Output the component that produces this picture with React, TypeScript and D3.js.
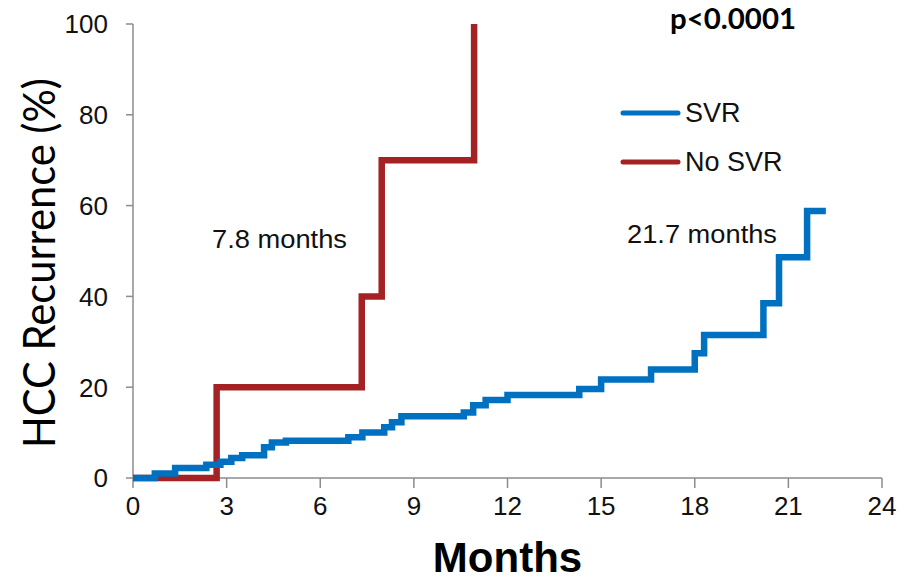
import React from "react";
import * as d3 from "d3";

// Kaplan-Meier style step data (months, % recurrence)
const svrMonths = [0, 0.7, 1.35, 2.35, 2.8, 3.15, 3.5, 4.2, 4.45, 4.9, 6.9, 7.35, 8.05, 8.3, 8.6, 10.6, 10.9, 11.3, 12.0, 14.3, 15.0, 16.6, 18.0, 18.3, 20.2, 20.7, 21.6, 22.2];
const svrPct = [0, 1.0, 2.2, 2.9, 3.6, 4.4, 5.0, 6.8, 7.8, 8.2, 9.0, 10.0, 11.2, 12.3, 13.6, 14.4, 16.0, 17.2, 18.3, 19.6, 21.7, 23.9, 27.5, 31.5, 38.5, 48.6, 58.8, 58.8];
const noSvrMonths = [0, 2.68, 7.33, 7.97, 10.93];
const noSvrPct = [0, 20, 40, 70, 100];

const xTicks = [0, 3, 6, 9, 12, 15, 18, 21, 24];
const yTicks = [0, 20, 40, 60, 80, 100];

const seriesNames = ["SVR", "No SVR"];
const colors = ["#0070C0", "#A52224"];

const W = 914;
const H = 582;
const margin = { left: 133, right: 32, top: 24, bottom: 104 };

export default function App() {
  const x = d3.scaleLinear().domain([0, 24]).range([margin.left, W - margin.right]);
  const y = d3.scaleLinear().domain([0, 100]).range([H - margin.bottom, margin.top]);

  const line = d3
    .line<[number, number]>()
    .x(d => x(d[0]))
    .y(d => y(d[1]))
    .curve(d3.curveStepAfter);

  const svr = svrMonths.map((m, i) => [m, svrPct[i]] as [number, number]);
  const noSvr = noSvrMonths.map((m, i) => [m, noSvrPct[i]] as [number, number]);

  const axisColor = "#8c8c8c";
  const x0 = x(0);
  const y0 = y(0);

  return (
    <svg width={W} height={H} style={{ position: "absolute", left: 0, top: 0, background: "#fff" }}>
      {/* axes */}
      <line x1={x0} x2={x0} y1={y(100)} y2={y0} stroke={axisColor} strokeWidth={1.5} />
      <line x1={x0} x2={x(24)} y1={y0} y2={y0} stroke={axisColor} strokeWidth={1.5} />
      {yTicks.map(t => (
        <g key={"y" + t}>
          <line x1={x0 - 7} x2={x0} y1={y(t)} y2={y(t)} stroke={axisColor} strokeWidth={1.5} />
          <text x={108} y={y(t)} dy="0.36em" textAnchor="end" fontFamily="Liberation Sans, Arial" fontSize={26} fill="#111">
            {t}
          </text>
        </g>
      ))}
      {xTicks.map(t => (
        <g key={"x" + t}>
          <line x1={x(t)} x2={x(t)} y1={y0} y2={y0 + 10} stroke={axisColor} strokeWidth={1.5} />
          <text x={x(t)} y={515} textAnchor="middle" fontFamily="Liberation Sans, Arial" fontSize={26} fill="#111">
            {t}
          </text>
        </g>
      ))}

      {/* curves */}
      <path d={line(noSvr) || ""} fill="none" stroke={colors[1]} strokeWidth={6.5} strokeLinejoin="miter" />
      <path d={line(svr) || ""} fill="none" stroke={colors[0]} strokeWidth={6.5} strokeLinejoin="miter" />

      {/* axis titles */}
      <text x={(x(0) + x(24)) / 2} y={572} textAnchor="middle" fontFamily="Liberation Sans, Arial" fontWeight="bold" fontSize={42} fill="#000">
        Months
      </text>
      <text
        transform={`translate(55, ${(78 + 448) / 2}) rotate(-90)`}
        textAnchor="middle"
        fontFamily="Lato, Carlito, Calibri"
        fontSize={45}
        fill="#000"
        textLength={370}
        lengthAdjust="spacingAndGlyphs"
      >
        HCC Recurrence (%)
      </text>

      {/* annotations */}
      <text x={670} y={29} fontFamily="Lato, Carlito, Calibri" fontWeight="bold" fontSize={29} fill="#000" textLength={126} lengthAdjust="spacingAndGlyphs">
        p&lt;0.0001
      </text>
      <text x={212} y={248} fontFamily="Liberation Sans, Arial" fontSize={26} fill="#111" textLength={135} lengthAdjust="spacingAndGlyphs">
        7.8 months
      </text>
      <text x={627} y={243} fontFamily="Liberation Sans, Arial" fontSize={26} fill="#111" textLength={150} lengthAdjust="spacingAndGlyphs">
        21.7 months
      </text>

      {/* legend */}
      {seriesNames.map((name, i) => (
        <g key={name}>
          <line x1={623} x2={678} y1={113 + i * 49} y2={113 + i * 49} stroke={colors[i]} strokeWidth={5} strokeLinecap="round" />
          <text x={685} y={122 + i * 49} fontFamily="Liberation Sans, Arial" fontSize={27} fill="#111">
            {name}
          </text>
        </g>
      ))}
    </svg>
  );
}
